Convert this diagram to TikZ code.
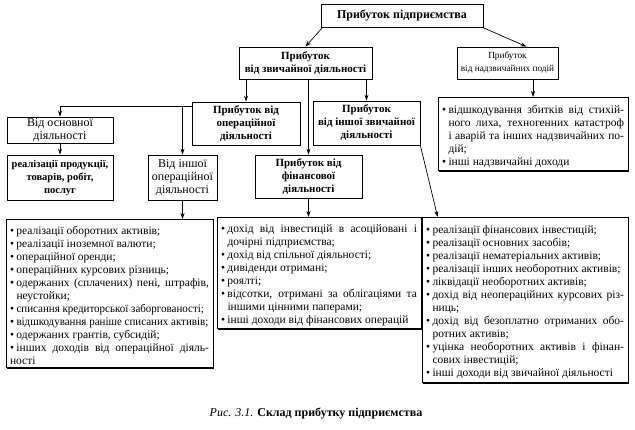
\documentclass[tikz,border=0pt]{standalone}
\usepackage{fontspec}
\usepackage{graphicx}
\setmainfont{Liberation Serif}
\usetikzlibrary{arrows.meta,shadows}

\newlength\bulw
\setlength\bulw{6.5pt}
\newcommand\itm{\par\noindent\hangindent=\bulw\hangafter=1\makebox[\bulw][l]{\textbullet}}
\newcommand\sq[2]{\scalebox{#1}[1]{#2}}

\begin{document}
\begin{tikzpicture}[x=1pt, y=-1pt, >={Stealth[length=6pt, width=4pt]},
    box/.style={draw, line width=0.7pt, fill=white, align=center, inner sep=1pt,
        general shadow={fill=black, shadow xshift=1.2pt, shadow yshift=-1.2pt},
        font=\fontsize{12}{13}\selectfont},
    title/.style={box, font=\fontsize{11}{13}\selectfont\bfseries},
    list/.style={box, anchor=north, align=justify, inner xsep=4pt, inner ysep=2pt,
        font=\fontsize{11.5}{13}\selectfont},
    link/.style={->, line width=0.7pt}]
    \useasboundingbox (0,0) rectangle (635,429);

    % Прибуток підприємства
    \node[title, font=\fontsize{12}{14}\selectfont\bfseries, minimum width=162pt, minimum height=23pt] (firm) at (402,15.5) {Прибуток підприємства};

    % Звичайна і надзвичайна
    \node[title, minimum width=133pt, minimum height=32pt] (ord) at (305.5,63) {Прибуток\\від звичайної діяльності};
    \node[box, font=\fontsize{9.3}{13}\selectfont, minimum width=101pt, minimum height=32pt] (extra) at (507.5,63) {Прибуток\\від надзвичайних подій};

    % Види звичайної діяльності
    \node[title, minimum width=108pt, minimum height=43pt] (oper) at (246,123.5) {Прибуток від\\операційної\\діяльності};
    \node[title, minimum width=107pt, minimum height=44pt] (other) at (366.5,123) {Прибуток\\від іншої звичайної\\діяльності};
    \node[title, minimum width=107pt, minimum height=43pt] (fin) at (308.5,176.5) {Прибуток від\\фінансової\\діяльності};

    % Операційна діяльність
    \node[box, minimum width=106pt, minimum height=26pt] (main) at (60,130) {Від основної\\діяльності};
    \node[title, font=\fontsize{10.5}{13}\selectfont\bfseries, minimum width=106pt, minimum height=45pt] (sales) at (60,177.5) {реалізації продукції,\\товарів, робіт,\\послуг};
    \node[box, minimum width=69pt, minimum height=45pt] (otherop) at (182.5,177.5) {Від іншої\\операційної\\діяльності};

    % Надзвичайні доходи
    \node[list, text width=182pt, minimum height=73pt] (extlist) at (533,97) {%
        \itm відшкодування збитків від стихій-\linebreak ного лиха, техногенних катастроф\linebreak і аварій та інших надзвичайних по-\linebreak дій;
        \itm інші надзвичайні доходи};

    % Інша операційна
    \node[list, text width=199pt, minimum height=148pt] (oplist) at (109.5,219) {%
        \itm реалізації оборотних активів;
        \itm реалізації іноземної валюти;
        \itm операційної оренди;
        \itm операційних курсових різниць;
        \itm одержаних (сплачених) пені, штрафів,\linebreak неустойки;
        \itm \sq{.955}{списання кредиторської заборгованості;}
        \itm \sq{.955}{відшкодування раніше списаних активів;}
        \itm одержаних грантів, субсидій;
        \itm інших доходів від операційної діяль-\linebreak ності};

    % Фінансова
    \node[list, text width=196pt, minimum height=111pt] (finlist) at (319,217) {%
        \itm дохід від інвестицій в асоційовані і\linebreak дочірні підприємства;
        \itm дохід від спільної діяльності;
        \itm дивіденди отримані;
        \itm роялті;
        \itm відсотки, отримані за облігаціями та\linebreak іншими цінними паперами;
        \itm інші доходи від фінансових операцій};

    % Інша звичайна
    \node[list, text width=198pt, minimum height=165pt] (ordlist) at (525,217) {%
        \itm реалізації фінансових інвестицій;
        \itm реалізації основних засобів;
        \itm реалізації нематеріальних активів;
        \itm реалізації інших необоротних активів;
        \itm ліквідації необоротних активів;
        \itm дохід від неопераційних курсових різ-\linebreak ниць;
        \itm дохід від безоплатно отриманих обо-\linebreak ротних активів;
        \itm уцінка необоротних активів і фінан-\linebreak сових інвестицій;
        \itm інші доходи від звичайної діяльності};

    % Підпис
    \node[font=\fontsize{12}{14}\selectfont] (cap) at (316,413) {\textit{Рис. 3.1.} \textbf{Склад прибутку підприємства}};

    % Стрілки
    \draw[link] ([xshift=2pt]firm.south west) -- (ord.north);
    \draw[link] ([xshift=-1pt]firm.south east) -- ([xshift=19pt]extra.north);
    \draw[link] (ord.south -| oper.north) -- (oper.north);
    \draw[link] (ord.south -| fin.north) -- (fin.north);
    \draw[link] (ord.south -| other.north) -- (other.north);
    \coordinate (split) at ([yshift=-5pt]oper.north west);
    \draw[link] (split) -| (main.north);
    \draw[link] (split -| otherop.north) -- (otherop.north);
    \draw[link] (main) -- (sales);
    \draw[link] (otherop.south) -- (otherop.south |- oplist.north);
    \draw[link] (fin.south) -- (fin.south |- finlist.north);
    \draw[link] (other.south east) -- ([xshift=16pt]ordlist.north west);
    \draw[link] (extra.south -| extlist.north) -- (extlist.north);
\end{tikzpicture}
\end{document}
